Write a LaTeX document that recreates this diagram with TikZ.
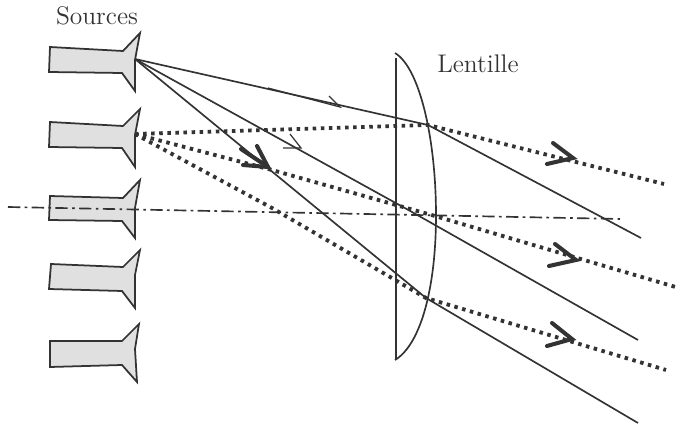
\documentclass[tikz,border=0pt]{standalone}
\usetikzlibrary{positioning}
\definecolor{inkgray}{gray}{0.2}
\definecolor{hornfill}{gray}{0.88}
\tikzset{
  hornbox/.style={draw=inkgray,fill=hornfill,line width=1pt,line join=miter},
  solidray/.style={draw=inkgray,line width=0.95pt},
  dotray/.style={draw=inkgray,line width=2.2pt,dash pattern=on 2pt off 2.6pt},
  thinhead/.style={draw=inkgray,line width=0.7pt},
  boldhead/.style={draw=inkgray,line width=2.3pt,line cap=round},
  axisline/.style={draw=inkgray,line width=0.95pt,dash pattern=on 7pt off 2.5pt on 1.5pt off 2.5pt},
  lenslabel/.style={text=inkgray,font=\fontsize{14.5}{16}\selectfont,inner sep=0pt}
}
\begin{document}
\begin{tikzpicture}[x=0.02cm,y=-0.02cm]
\useasboundingbox (0,0) rectangle (681,426);
\node[lenslabel] (sources) at (97,16) {Sources};
\node[lenslabel] (lentille) at (478,64) {Lentille};
\draw[hornbox] (50,47) -- (123,51) -- (140,33) -- (135,60) -- (135,91) -- (122,73) -- (49,72) -- cycle;
\draw[hornbox] (50,122) -- (123,126) -- (140,109) -- (135,135) -- (135,167) -- (122,148) -- (49,147) -- cycle;
\draw[hornbox] (50,196) -- (123,198) -- (140,180) -- (135,208) -- (135,238) -- (122,221) -- (49,220) -- cycle;
\draw[hornbox] (51,264) -- (123,267) -- (140,250) -- (135,275) -- (135,308) -- (122,291) -- (49,289) -- cycle;
\draw[hornbox] (50,341) -- (122,341) -- (139,324) -- (135,349) -- (137,382) -- (122,365) -- (50,367) -- cycle;
\coordinate (srcone) at (135,59);
\coordinate (srctwo) at (135,134);
\coordinate (bendA) at (428,125);
\coordinate (bendB) at (412,212);
\coordinate (bendC) at (426,298);
\coordinate (bendD) at (435,216);
\coordinate (kneeB) at (272,170);
\coordinate (kneeC) at (272,208);
\draw[axisline] (8,207) -- (620,219);
\draw[solidray] (396,58) -- (396,360);
\draw[solidray] (395,53) .. controls (420,68) and (436,140) .. (436,215) .. controls (436,290) and (420,345) .. (395,360);
\draw[solidray] (srcone) -- (bendA) -- (641,238);
\draw[solidray] (srcone) -- (bendB) -- (638,340);
\draw[solidray] (srcone) -- (bendC) -- (638,423);
\draw[dotray] (srctwo) -- (bendA) -- (664,184);
\draw[dotray] (srctwo) -- (kneeB) -- (bendD) -- (679,288);
\draw[dotray] (srctwo) -- (kneeC) -- (bendC) -- (666,370);
\draw[thinhead] (329,96) -- (340,107) -- (268,88);
\draw[thinhead] (290,134) -- (301,148) -- (283,148);
\draw[boldhead] (257,146) -- (268,167) -- (243,165);
\draw[boldhead] (241,149) -- (268,167);
\draw[boldhead] (553,143) -- (573,158) -- (547,164);
\draw[boldhead] (555,244) -- (576,260) -- (549,266);
\draw[boldhead] (552,323) -- (572,339) -- (547,346);
\end{tikzpicture}
\end{document}
